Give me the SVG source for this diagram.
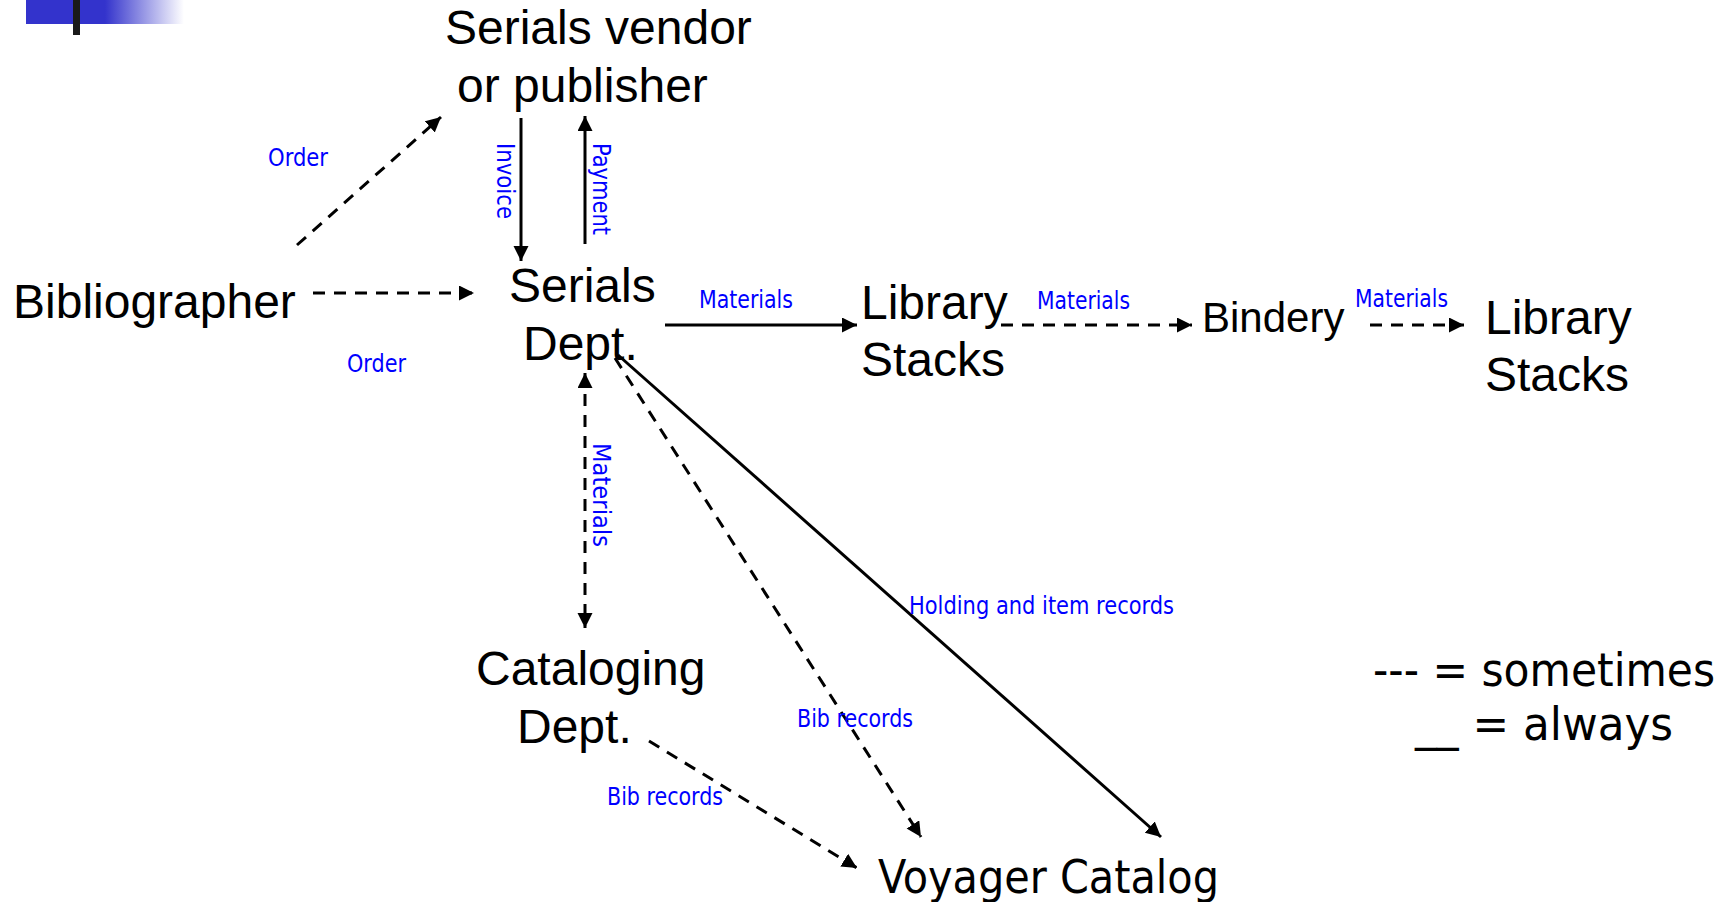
<svg xmlns="http://www.w3.org/2000/svg" width="1731" height="902" viewBox="0 0 1731 902">
<style>
.node{font-family:"Liberation Sans",Arial,sans-serif;font-size:48px;fill:#000}
.tah{font-family:"DejaVu Sans Condensed","DejaVu Sans",sans-serif;font-size:46px;fill:#000}
.lbl{font-family:"DejaVu Sans Condensed","DejaVu Sans",sans-serif;font-size:24px;fill:#0000FF}
.ln{stroke:#000;stroke-width:3;fill:none}
.dash{stroke-dasharray:12 9}
</style>
<defs>
<marker id="ah" markerUnits="userSpaceOnUse" markerWidth="16" markerHeight="16" refX="15" refY="7.5" orient="auto-start-reverse" viewBox="0 0 16 16">
<path d="M0,0 L15,7.5 L0,15 z" fill="#000"/>
</marker>
<linearGradient id="fade" x1="0" y1="0" x2="1" y2="0">
<stop offset="0" stop-color="#3333CC"/>
<stop offset="0.5" stop-color="#3333CC"/>
<stop offset="1" stop-color="#3333CC" stop-opacity="0"/>
</linearGradient>
</defs>
<rect width="1731" height="902" fill="#fff"/>
<g id="decoration">
<rect x="26" y="0" width="158" height="24" fill="url(#fade)"/>
<rect x="73" y="0" width="7" height="35" fill="#1a1a1a"/>
</g>
<g id="connectors">
<line class="ln dash" x1="297" y1="245" x2="441" y2="117" marker-end="url(#ah)"/>
<line class="ln dash" x1="313" y1="293" x2="474" y2="293" marker-end="url(#ah)"/>
<line class="ln" x1="521" y1="118" x2="521" y2="261" marker-end="url(#ah)"/>
<line class="ln" x1="585" y1="244" x2="585" y2="116" marker-end="url(#ah)"/>
<line class="ln" x1="665" y1="325" x2="857" y2="325" marker-end="url(#ah)"/>
<line class="ln dash" x1="1001" y1="325" x2="1192" y2="325" marker-end="url(#ah)"/>
<line class="ln dash" x1="1370" y1="325" x2="1464" y2="325" marker-end="url(#ah)"/>
<line class="ln dash" x1="585" y1="373" x2="585" y2="628" marker-start="url(#ah)" marker-end="url(#ah)"/>
<line class="ln dash" x1="615" y1="358" x2="921" y2="837" marker-end="url(#ah)"/>
<line class="ln" x1="618" y1="355" x2="1161" y2="837" marker-end="url(#ah)"/>
<line class="ln dash" x1="649" y1="741" x2="857" y2="868" marker-end="url(#ah)"/>
</g>
<g id="labels">
<text class="lbl" x="268" y="166" textLength="60" lengthAdjust="spacingAndGlyphs">Order</text>
<text class="lbl" x="347" y="372" textLength="59" lengthAdjust="spacingAndGlyphs">Order</text>
<text class="lbl" transform="translate(497,143) rotate(90)" textLength="76" lengthAdjust="spacingAndGlyphs">Invoice</text>
<text class="lbl" transform="translate(593,143) rotate(90)" textLength="92" lengthAdjust="spacingAndGlyphs">Payment</text>
<text class="lbl" transform="translate(593,443) rotate(90)" textLength="104" lengthAdjust="spacingAndGlyphs">Materials</text>
<text class="lbl" x="699" y="308" textLength="94" lengthAdjust="spacingAndGlyphs">Materials</text>
<text class="lbl" x="1037" y="309" textLength="93" lengthAdjust="spacingAndGlyphs">Materials</text>
<text class="lbl" x="1355" y="307" textLength="93" lengthAdjust="spacingAndGlyphs">Materials</text>
<text class="lbl" x="909" y="614" textLength="265" lengthAdjust="spacingAndGlyphs">Holding and item records</text>
<text class="lbl" x="797" y="727" textLength="116" lengthAdjust="spacingAndGlyphs">Bib records</text>
<text class="lbl" x="607" y="805" textLength="116" lengthAdjust="spacingAndGlyphs">Bib records</text>
</g>
<g id="vendor"><text class="node" x="445" y="44">Serials vendor</text><text class="node" x="457" y="102">or publisher</text></g>
<g id="bibliographer"><text class="node" x="13" y="318">Bibliographer</text></g>
<g id="serials-dept"><text class="node" x="509" y="302">Serials</text><text class="node" x="523" y="360">Dept.</text></g>
<g id="library-stacks-1"><text class="node" x="861" y="319">Library</text><text class="node" x="861" y="376">Stacks</text></g>
<g id="bindery"><text class="node" x="1202" y="332" style="font-size:42px">Bindery</text></g>
<g id="library-stacks-2"><text class="node" x="1485" y="334">Library</text><text class="node" x="1485" y="391">Stacks</text></g>
<g id="cataloging-dept"><text class="node" x="476" y="685">Cataloging</text><text class="node" x="517" y="743">Dept.</text></g>
<g id="voyager"><text class="tah" x="878" y="893" textLength="341" lengthAdjust="spacingAndGlyphs">Voyager Catalog</text></g>
<g id="legend">
<text class="tah" x="1373" y="686" textLength="342" lengthAdjust="spacingAndGlyphs">--- = sometimes</text>
<text class="tah" x="1415" y="740" textLength="258" lengthAdjust="spacingAndGlyphs">__ = always</text>
</g>
</svg>
